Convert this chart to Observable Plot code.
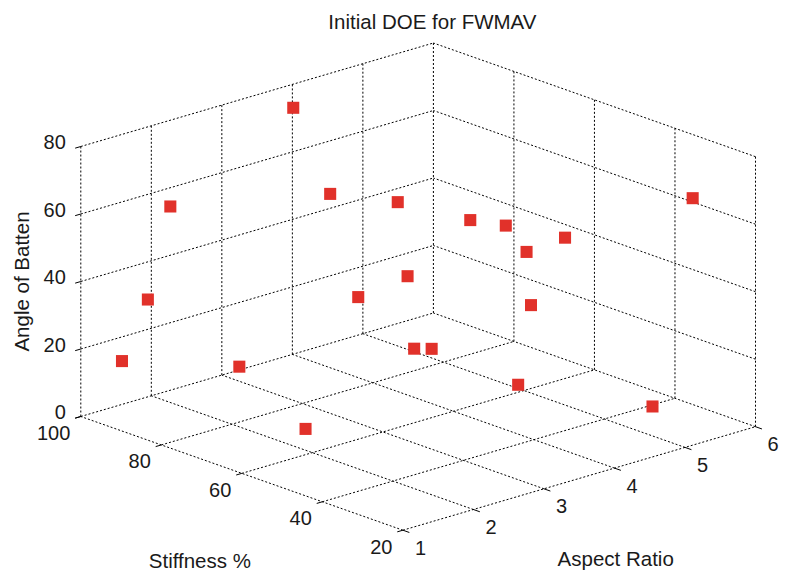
<!DOCTYPE html>
<html>
<head>
<meta charset="utf-8">
<script src="https://cdn.jsdelivr.net/npm/d3@7"></script>
<script src="https://cdn.jsdelivr.net/npm/@observablehq/plot@0.6"></script>
<style>
  html, body { margin: 0; padding: 0; background: #fff; }
  #chart svg { display: block; }
</style>
</head>
<body>
<div id="chart"></div>
<script>
// ---- data ----
const aspectRatio = [3.79, 1.71, 3.52, 4.01, 5.64, 4.77, 4.48, 4.23, 5.10, 3.35, 1.42, 3.25, 5.30, 1.35, 4.18, 3.72, 2.58, 4.49, 5.35, 2.32];
const stiffness   = [96.1, 90.2, 82.2, 74.0, 29.3, 69.3, 55.4, 36.3, 61.1, 60.0, 90.7, 70.5, 63.5, 95.9, 72.9, 60.5, 88.3, 52.5, 34.2, 67.3];
const battenAngle = [76, 62, 58, 56, 66, 48, 54, 60, 40, 44, 36, 34, 22, 16, 12, 20, 10, 8, 4, 2];

const aspectTicks = [1, 2, 3, 4, 5, 6];
const stiffTicks  = [20, 40, 60, 80, 100];
const angleTicks  = [0, 20, 40, 60, 80];

const title = "Initial DOE for FWMAV";
const xLabel = "Aspect Ratio";
const yLabel = "Stiffness %";
const zLabel = "Angle of Batten";

// ---- 3D view (orthographic camera, box normalised to [0,1]^3) ----
const aDom = [1, 6], sDom = [20, 100], zDom = [0, 80];
const view = {
  a: [352.5, 103.5],   // horizontal, vertical contribution of the aspect axis
  s: [-322, 113.7],    // ... of the stiffness axis
  z: [0, 270]          // ... of the angle axis
};
function proj(a, s, z) {
  const na = (a - aDom[0]) / (aDom[1] - aDom[0]);
  const ns = (s - sDom[0]) / (sDom[1] - sDom[0]);
  const nz = (z - zDom[0]) / (zDom[1] - zDom[0]);
  return {
    h: na * view.a[0] + ns * view.s[0] + nz * view.z[0],
    v: na * view.a[1] + ns * view.s[1] + nz * view.z[1]
  };
}
const seg = (p, q) => ({x1: p.h, y1: p.v, x2: q.h, y2: q.v});

// grid lines: floor + two back walls
const grid = [];
for (const a of aspectTicks) grid.push(seg(proj(a, 20, 0), proj(a, 100, 0)));
for (const s of stiffTicks) grid.push(seg(proj(1, s, 0), proj(6, s, 0)));
for (const a of aspectTicks) grid.push(seg(proj(a, 100, 0), proj(a, 100, 80)));
for (const z of angleTicks) if (z > 0) grid.push(seg(proj(1, 100, z), proj(6, 100, z)));
for (const s of stiffTicks) if (s < 100) grid.push(seg(proj(6, s, 0), proj(6, s, 80)));
for (const z of angleTicks) if (z > 0) grid.push(seg(proj(6, 20, z), proj(6, 100, z)));

// tick marks
const ticks = [];
for (const z of angleTicks) ticks.push(seg(proj(1, 100, z), proj(0.92, 100, z)));
for (const s of stiffTicks) ticks.push(seg(proj(1, s, 0), proj(0.92, s, 0)));
for (const a of aspectTicks) ticks.push(seg(proj(a, 20, 0), proj(a, 18.4, 0)));

const pts = aspectRatio.map((a, i) => proj(a, stiffness[i], battenAngle[i]));
const zLab = angleTicks.map(z => ({...proj(1, 100, z), t: String(z)}));
const sLab = stiffTicks.map(s => ({...proj(1, s, 0), t: String(s)}));
const aLab = aspectTicks.map(a => ({...proj(a, 20, 0), t: String(a)}));

const font = "'Liberation Sans', Arial, Helvetica, sans-serif";
const ink = "#1a1a1a";
const fsTick = 20;
const fs = 20.5;

const chart = Plot.plot({
  width: 785,
  height: 572,
  margin: 0,
  style: {fontFamily: font, fontSize: fs + "px", background: "#fff", color: ink},
  x: {type: "linear", domain: [-322, 352.5], range: [80.3, 755], axis: null},
  y: {type: "linear", domain: [0, 487.2], range: [529.7, 42.5], axis: null},
  marks: [
    Plot.link(grid, {x1: "x1", y1: "y1", x2: "x2", y2: "y2", stroke: "#000", strokeWidth: 1, strokeDasharray: "2,2"}),
    Plot.link(ticks, {x1: "x1", y1: "y1", x2: "x2", y2: "y2", stroke: "#000", strokeWidth: 1}),
    Plot.dot(pts, {x: "h", y: "v", symbol: "square", r: 6.8, fill: "#e1312a", stroke: null}),
    Plot.text(zLab, {x: "h", y: "v", text: "t", textAnchor: "end", dx: -15, dy: -3.5, fontSize: fsTick, fill: ink}),
    Plot.text(sLab, {x: "h", y: "v", text: "t", textAnchor: "end", dx: -10.5, dy: 17, fontSize: fsTick, fill: ink}),
    Plot.text(aLab, {x: "h", y: "v", text: "t", textAnchor: "start", dx: 12, dy: 18, fontSize: fsTick, fill: ink}),
    Plot.text([proj(1, 60, 0)], {x: "h", y: "v", text: [yLabel], textAnchor: "middle", dx: -42, dy: 88, fontSize: fs, fill: ink}),
    Plot.text([proj(3.5, 20, 0)], {x: "h", y: "v", text: [xLabel], textAnchor: "middle", dx: 36.5, dy: 81, fontSize: fs, fill: ink}),
    Plot.text([proj(1, 100, 40)], {x: "h", y: "v", text: [zLabel], textAnchor: "middle", rotate: -90, dx: -58, dy: 0, fontSize: fs, fill: ink}),
    Plot.text([proj(6, 100, 80)], {x: "h", y: "v", text: [title], textAnchor: "middle", dx: -1, dy: -21, fontSize: fs, fill: ink})
  ]
});
document.getElementById("chart").appendChild(chart);
</script>
</body>
</html>
